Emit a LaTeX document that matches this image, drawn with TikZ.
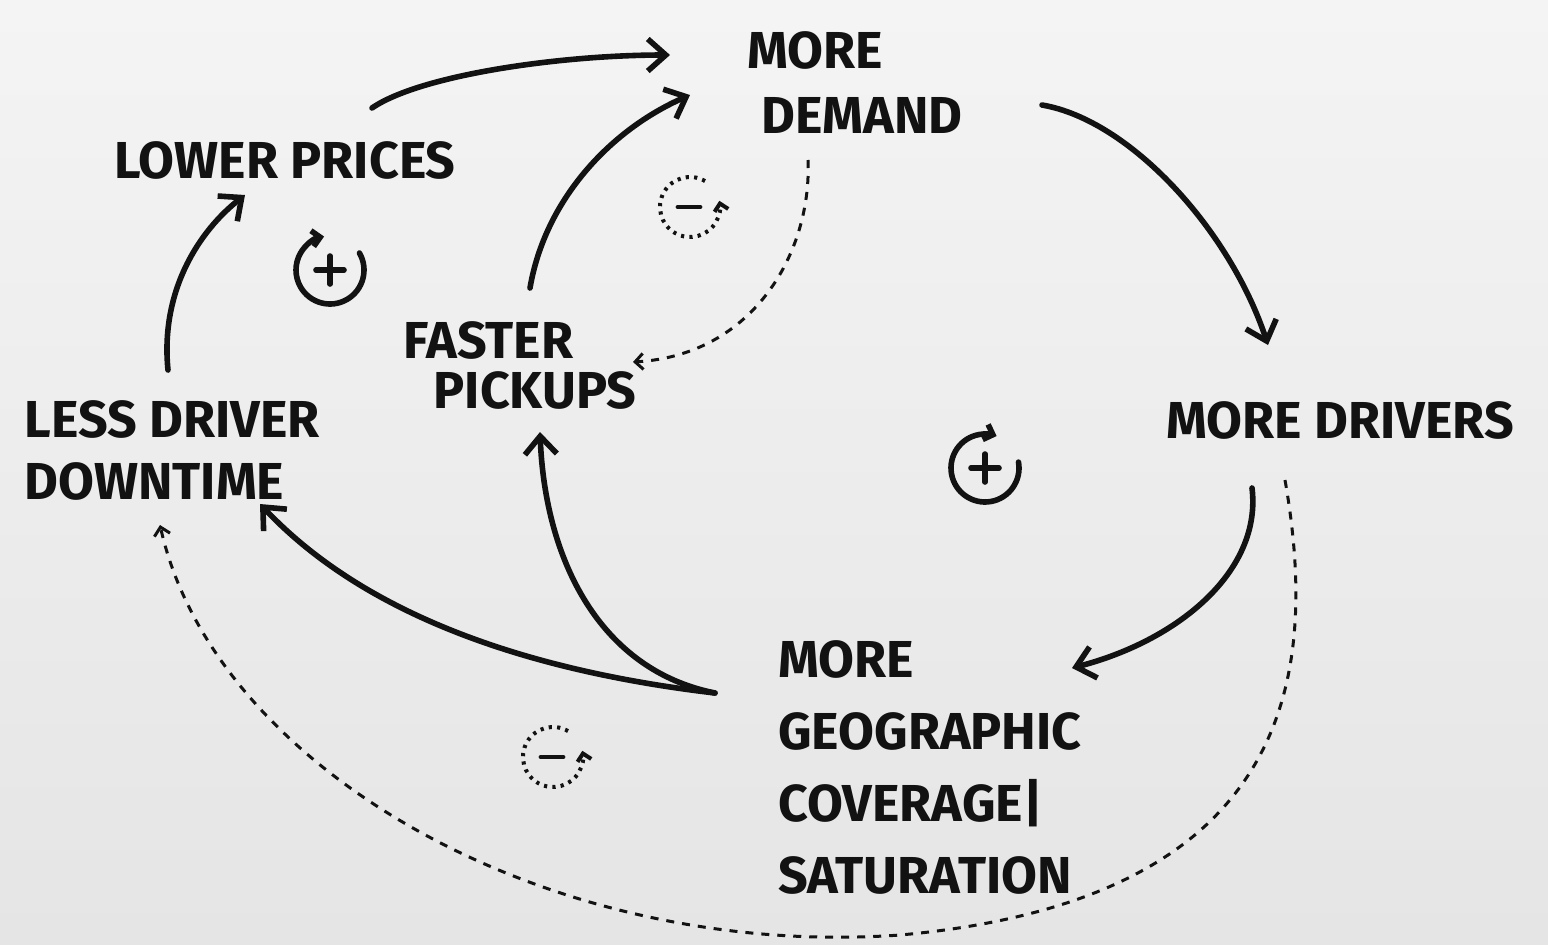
\documentclass[tikz,border=0pt]{standalone}
\usepackage{fontspec}
\setmainfont{Fira Sans}
\usetikzlibrary{arrows.meta}
\definecolor{ink}{RGB}{18,18,18}
\definecolor{papertop}{RGB}{244,244,244}
\definecolor{paperbot}{RGB}{229,229,229}
\tikzset{
  lbl/.style={font=\fontsize{26}{30}\selectfont\bfseries, text=ink, inner sep=0pt, align=left},
  causal/.style={draw=ink, line width=2.8pt, line cap=round, -{Straight Barb[length=9pt,width=16pt]}},
  weak/.style={draw=ink, line width=1.5pt, dash pattern=on 4pt off 4pt, -{Straight Barb[length=4pt,width=8pt]}},
  reinf/.style={draw=ink, line width=2.8pt, line cap=round, -{Straight Barb[length=4pt,width=8pt]}},
  balan/.style={draw=ink, line width=2pt, dash pattern=on 1.6pt off 2.6pt, -{Straight Barb[length=3.5pt,width=7pt]}},
  sign/.style={draw=ink, line width=2.8pt, line cap=round},
}
\begin{document}
\begin{tikzpicture}[x=0.5pt,y=-0.5pt]
\shade[top color=papertop,bottom color=paperbot] (0,0) rectangle (1548,944);
\useasboundingbox (0,0) rectangle (1548,944);

% labels
\node[lbl, font=\fontsize{26}{32.5}\selectfont\bfseries] (demand) at (855,83) {MORE\\\hspace*{7pt}DEMAND};
\node[lbl] (prices) at (285,160) {LOWER PRICES};
\node[lbl, font=\fontsize{26}{25}\selectfont\bfseries] (faster) at (520,365) {FASTER\\\hspace*{15pt}PICKUPS};
\node[lbl, font=\fontsize{26}{31}\selectfont\bfseries] (downtime) at (172,450) {LESS DRIVER\\DOWNTIME};
\node[lbl] (drivers) at (1340,420) {MORE DRIVERS};
\node[lbl, font=\fontsize{26}{36}\selectfont\bfseries] (geo) at (930,767) {MORE\\GEOGRAPHIC\\COVERAGE|\\SATURATION};

% solid causal links
\draw[causal] ([shift={(87,-52)}]prices.center) .. controls +(48,-33) and +(-110,0) .. ([shift={(-185,-28)}]demand.center);
\draw[causal] ([shift={(10,-77)}]faster.center) .. controls +(15,-88) and +(-80,35) .. ([shift={(-165,12)}]demand.center);
\draw[causal] ([shift={(187,22)}]demand.center) .. controls +(88,15) and +(-38,-115) .. ([shift={(-72,-75)}]drivers.center);
\draw[causal] ([shift={(-88,68)}]drivers.center) .. controls +(10,82) and +(108,-28) .. ([shift={(142,-99)}]geo.center);
\draw[causal] ([shift={(-215,-74)}]geo.center) .. controls +(-115,-23) and +(5,128) .. ([shift={(20,67)}]faster.center);
\draw[causal] ([shift={(-215,-74)}]geo.center) .. controls +(-195,-23) and +(102,108) .. ([shift={(88,54)}]downtime.center);
\draw[causal] ([shift={(-4,-80)}]downtime.center) .. controls +(-8,-80) and +(-45,35) .. ([shift={(-40,35)}]prices.center);

% dashed links
\draw[weak] ([shift={(-47,77)}]demand.center) .. controls +(4,90) and +(122,-7) .. ([shift={(113,-3)}]faster.center);
\coordinate (low) at (900,935);
\draw[weak] ([shift={(-55,60)}]drivers.center) .. controls +(35,200) and +(390,-35) .. (low)
  .. controls +(-350,25) and +(55,245) .. ([shift={(-12,75)}]downtime.center);

% loop markers
\coordinate (R1) at (330,270);
\coordinate (R2) at (985,468);
\coordinate (B1) at (690,207);
\coordinate (B2) at (553,757);

\draw[reinf] ([shift={(30:17pt)}]R1) arc[start angle=30, end angle=-260, radius=17pt];
\draw[sign] ([xshift=-7pt]R1) -- ([xshift=7pt]R1) ([yshift=-7pt]R1) -- ([yshift=7pt]R1);

\draw[reinf] ([shift={(10:17pt)}]R2) arc[start angle=10, end angle=-290, radius=17pt];
\draw[sign] ([xshift=-7pt]R2) -- ([xshift=7pt]R2) ([yshift=-7pt]R2) -- ([yshift=7pt]R2);

\draw[balan] ([shift={(60:15pt)}]B1) arc[start angle=60, end angle=372, radius=15pt];
\draw[sign, line width=2.4pt] ([xshift=-6pt]B1) -- ([xshift=5pt]B1);

\draw[balan] ([shift={(60:15pt)}]B2) arc[start angle=60, end angle=372, radius=15pt];
\draw[sign, line width=2.4pt] ([xshift=-6pt]B2) -- ([xshift=5pt]B2);
\end{tikzpicture}
\end{document}
